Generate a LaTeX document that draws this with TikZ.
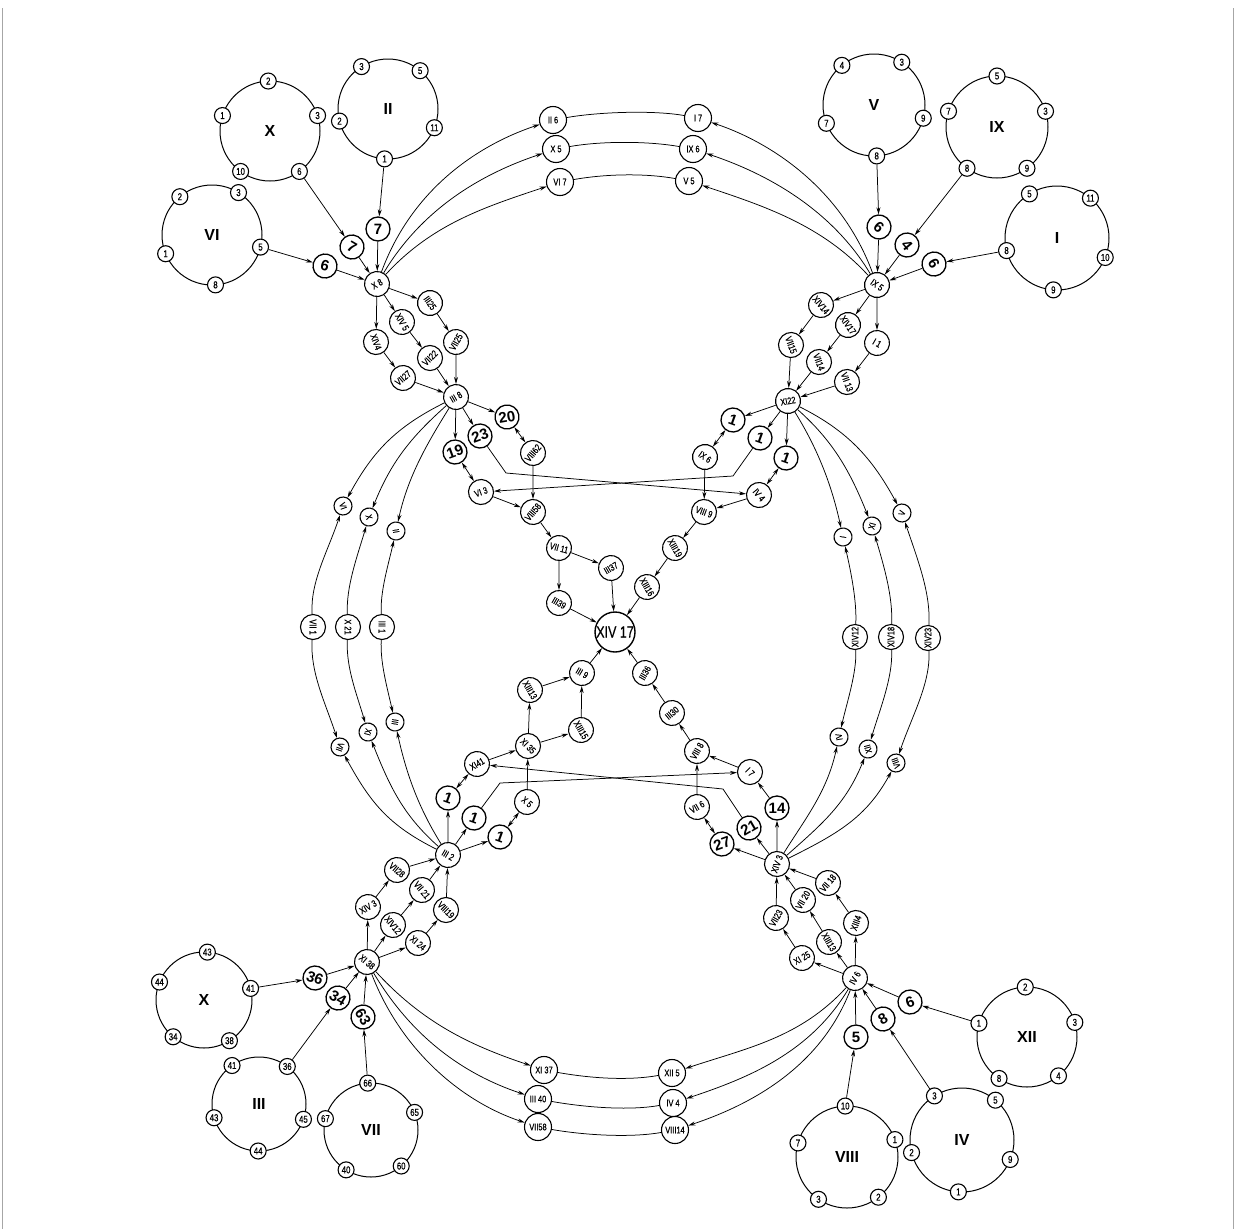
\documentclass[tikz,border=0pt]{standalone}
\usepackage{fontspec}
\setmainfont{Liberation Sans}
\newfontfamily\nf[FakeStretch=0.78,FakeBold=0.6]{Liberation Sans}
\usetikzlibrary{arrows.meta,calc}
\tikzset{
 base/.style={draw, circle, line width=1.1pt, inner sep=0pt, fill=white},
 ringc/.style={draw, circle, line width=1pt, minimum size=#1, inner sep=0pt, font=\bfseries\fontsize{16}{16}\selectfont},
 ringc/.default=100pt,
 rn/.style={base, minimum size=16pt, font=\nf\fontsize{10}{10}\selectfont},
 num/.style={base, minimum size=24pt, line width=1.3pt, font=\bfseries\fontsize{15}{15}\selectfont},
 lab/.style={base, minimum size=25pt, font=\nf\fontsize{9.5}{9.5}\selectfont},
 sml/.style={base, minimum size=18pt, font=\nf\fontsize{9}{9}\selectfont},
 big/.style={base, minimum size=40pt, line width=1.4pt, font=\nf\fontsize{16}{16}\selectfont},
 ar/.style={-{Stealth[length=7pt,width=4pt]}, line width=0.75pt},
 dar/.style={{Stealth[length=7pt,width=4pt]}-{Stealth[length=7pt,width=4pt]}, line width=0.75pt},
 ln/.style={line width=0.75pt},
}
\begin{document}
\begin{tikzpicture}[x=1pt,y=-1pt]
\useasboundingbox (0,0) rectangle (1235,1229);
\draw[gray!70, line width=0.8pt] (2,1229) -- (2,8);
\draw[gray!70, line width=0.8pt] (1233,1229) -- (1233,8);

% ---------- rings ----------
\node[ringc] (rX) at (270,131) {X};
\foreach \a/\t in {92/2,18/3,-54/6,-126/10,162/1}{\node[rn] (rX-\t) at ($(rX)+(-\a:50)$) {\t};}
\node[ringc] (rII) at (388,109) {II};
\foreach \a/\t in {122/3,50/5,-22/11,-94/1,194/2}{\node[rn] (rII-\t) at ($(rII)+(-\a:50)$) {\t};}
\node[ringc] (rVI) at (212,235) {VI};
\foreach \a/\t in {130/2,58/3,-14/5,-86/8,202/1}{\node[rn] (rVI-\t) at ($(rVI)+(-\a:50)$) {\t};}
\node[ringc=102pt] (rV) at (874,105) {V};
\foreach \a/\t in {129/4,57/3,-15/9,-87/8,201/7}{\node[rn] (rV-\t) at ($(rV)+(-\a:51)$) {\t};}
\node[ringc=102pt] (rIX) at (997,127) {IX};
\foreach \a/\t in {90/5,18/3,-54/9,-126/8,162/7}{\node[rn] (rIX-\t) at ($(rIX)+(-\a:51)$) {\t};}
\node[ringc=104pt] (rI) at (1057,238) {I};
\foreach \a/\t in {122/5,50/11,-22/10,-94/9,194/8}{\node[rn] (rI-\t) at ($(rI)+(-\a:52)$) {\t};}
\node[ringc=96pt] (rXb) at (204,1000) {X};
\foreach \a/\t in {86/43,14/41,-58/38,-130/34,158/44}{\node[rn] (rXb-\t) at ($(rXb)+(-\a:48)$) {\t};}
\node[ringc=94pt] (rIIIb) at (259,1104) {III};
\foreach \a/\t in {125/41,53/36,-19/45,-91/44,197/43}{\node[rn] (rIIIb-\t) at ($(rIIIb)+(-\a:47)$) {\t};}
\node[ringc=94pt] (rVIIb) at (371,1130) {VII};
\foreach \a/\t in {94/66,22/65,-50/60,-122/40,166/67}{\node[rn] (rVIIb-\t) at ($(rVIIb)+(-\a:47)$) {\t};}
\node[ringc] (rXII) at (1027,1037) {XII};
\foreach \a/\t in {92/2,17/3,-51/4,-124/8,164/1}{\node[rn] (rXII-\t) at ($(rXII)+(-\a:50)$) {\t};}
\node[ringc=102pt] (rVIIIb) at (847,1157) {VIII};
\foreach \a/\t in {92/10,20/1,-52/2,-124/3,164/7}{\node[rn] (rVIIIb-\t) at ($(rVIIIb)+(-\a:51)$) {\t};}
\node[ringc=104pt] (rIVb) at (962,1140) {IV};
\foreach \a/\t in {122/3,50/5,-22/9,-94/1,194/2}{\node[rn] (rIVb-\t) at ($(rIVb)+(-\a:52)$) {\t};}

% ---------- top-left cluster ----------
\node[num, rotate=-15] (n6a) at (325,266) {6};
\node[num, rotate=-30] (n7a) at (352,247) {7};
\node[num] (n7b) at (378,229) {7};
\node[lab, rotate=30] (X8) at (377,284) {X 8};
\draw[ar] (rVI-5) -- (n6a); \draw[ar] (n6a) -- (X8);
\draw[ar] (rX-6) -- (n7a); \draw[ar] (n7a) -- (X8);
\draw[ar] (rII-1) -- (n7b); \draw[ar] (n7b) -- (X8);

% ---------- top-right cluster ----------
\node[num, rotate=-40] (n6b) at (879,227) {6};
\node[num, rotate=-50] (n4) at (907,245) {4};
\node[num, rotate=-60] (n6c) at (934,264) {6};
\node[lab, rotate=-35] (IX5) at (877,285) {IX 5};
\draw[ar] (rV-8) -- (n6b); \draw[ar] (n6b) -- (IX5);
\draw[ar] (rIX-8) -- (n4); \draw[ar] (n4) -- (IX5);
\draw[ar] (rI-8) -- (n6c); \draw[ar] (n6c) -- (IX5);

% ---------- top arcs ----------
\node[lab, minimum size=27pt] (tII6) at (553,120) {II 6};
\node[lab, minimum size=27pt] (tX5) at (556,149) {X 5};
\node[lab, minimum size=27pt] (tVI7) at (560,182) {VI 7};
\node[lab, minimum size=27pt] (tI7) at (698,118) {I 7};
\node[lab, minimum size=27pt] (tIX6) at (693,149) {IX 6};
\node[lab, minimum size=27pt] (tV5) at (689,181) {V 5};
\draw[ar] (X8) .. controls +(35,-95) and +(-75,25) .. (tII6);
\draw[ar] (X8) .. controls +(45,-75) and +(-75,25) .. (tX5);
\draw[ar] (X8) .. controls +(55,-60) and +(-75,25) .. (tVI7);
\draw[ln] (tII6) .. controls +(45,-8) and +(-45,-8) .. (tI7);
\draw[ln] (tX5) .. controls +(45,-8) and +(-45,-8) .. (tIX6);
\draw[ln] (tVI7) .. controls +(45,-8) and +(-45,-8) .. (tV5);
\draw[ar] (IX5) .. controls +(-35,-95) and +(75,25) .. (tI7);
\draw[ar] (IX5) .. controls +(-45,-75) and +(75,25) .. (tIX6);
\draw[ar] (IX5) .. controls +(-55,-60) and +(75,25) .. (tV5);

% ---------- upper-left chain ----------
\node[lab, rotate=-55] (III25) at (430,303) {III25};
\node[lab, rotate=-60] (XIV5) at (402,322) {XIV 5};
\node[lab, rotate=-70] (XIV4) at (376,342) {XIV4};
\node[lab, rotate=60] (VII25) at (456,342) {VII25};
\node[lab, rotate=45] (VII22) at (430,358) {VII22};
\node[lab, rotate=40] (VII27) at (403,378) {VII27};
\node[lab, rotate=30] (III8) at (456,397) {III 8};
\node[num, rotate=10] (n20) at (507,417) {20};
\node[num, rotate=20] (n23) at (480,436) {23};
\node[num, rotate=20] (n19) at (455,452) {19};
\node[lab, rotate=50] (VIII62) at (533,453) {VIII62};
\node[lab, rotate=20] (VI3) at (481,492) {VI 3};
\node[lab, rotate=50] (VIII58) at (533,512) {VIII58};
\draw[ar] (X8) -- (III25); \draw[ar] (X8) -- (XIV5); \draw[ar] (X8) -- (XIV4);
\draw[ar] (XIV4) -- (VII27); \draw[ar] (XIV5) -- (VII22); \draw[ar] (III25) -- (VII25);
\draw[ar] (VII27) -- (III8); \draw[ar] (VII22) -- (III8); \draw[ar] (VII25) -- (III8);
\draw[ar] (III8) -- (n20); \draw[ar] (III8) -- (n23); \draw[ar] (III8) -- (n19);
\draw[dar] (n20) -- (VIII62); \draw[dar] (n19) -- (VI3);
\draw[ar] (VIII62) -- (VIII58); \draw[ar] (VI3) -- (VIII58);

% ---------- upper-right chain ----------
\node[lab, rotate=-50] (XIV14) at (821,305) {XIV14};
\node[lab, rotate=-55] (XIV17) at (848,325) {XIV17};
\node[lab, rotate=-30] (I1) at (877,343) {I 1};
\node[lab, rotate=-70] (VII15) at (791,345) {VII15};
\node[lab, rotate=-70] (VII14) at (819,362) {VII14};
\node[lab, rotate=-70] (VII13) at (847,382) {VII 13};
\node[lab, rotate=10] (XI22) at (788,401) {XI22};
\node[num, rotate=-20] (n1a) at (733,420) {1};
\node[num, rotate=-20] (n1b) at (760,438) {1};
\node[num, rotate=-20] (n1c) at (786,458) {1};
\node[lab, rotate=-35] (IX6m) at (705,457) {IX 6};
\node[lab, rotate=-50] (IV4m) at (759,495) {IV 4};
\node[lab, rotate=-20] (VIII9) at (704,512) {VIII 9};
\draw[ar] (IX5) -- (XIV14); \draw[ar] (IX5) -- (XIV17); \draw[ar] (IX5) -- (I1);
\draw[ar] (XIV14) -- (VII15); \draw[ar] (XIV17) -- (VII14); \draw[ar] (I1) -- (VII13);
\draw[ar] (VII15) -- (XI22); \draw[ar] (VII14) -- (XI22); \draw[ar] (VII13) -- (XI22);
\draw[ar] (XI22) -- (n1a); \draw[ar] (XI22) -- (n1b); \draw[ar] (XI22) -- (n1c);
\draw[dar] (n1a) -- (IX6m); \draw[dar] (n1c) -- (IV4m);
\draw[ar] (IX6m) -- (VIII9); \draw[ar] (IV4m) -- (VIII9);
\coordinate (c23) at (506,473);
\draw[ar] (n23) -- (c23) -- (IV4m);
\coordinate (c1b) at (733,476);
\draw[ar] (n1b) -- (c1b) -- (VI3);

% ---------- centre ----------
\node[lab, rotate=-15] (VII11) at (559,548) {VII 11};
\node[lab, rotate=30] (III37) at (611,568) {III37};
\node[lab, rotate=-30] (III39) at (559,603) {III39};
\node[big] (XIV17c) at (615,632) {XIV 17};
\node[lab, rotate=-60] (XIII19) at (675,548) {XIII19};
\node[lab, rotate=-60] (XIII16) at (647,587) {XIII16};
\node[lab, rotate=-30] (III9) at (582,673) {III 9};
\node[lab, rotate=-60] (XIII13) at (530,690) {XIII13};
\node[lab, rotate=60] (III36) at (645,673) {III36};
\node[lab, rotate=-60] (XIII15) at (581,730) {XIII15};
\node[lab, rotate=-45] (XI35) at (528,746) {XI 35};
\node[lab, rotate=40] (III30) at (672,713) {III30};
\node[lab, rotate=30] (XI41) at (477,764) {XI41};
\node[lab, rotate=60] (VIII8) at (697,751) {VIII 8};
\node[lab, rotate=-45] (I7b) at (750,772) {I 7};
\draw[ar] (VIII58) -- (VII11); \draw[ar] (VII11) -- (III37); \draw[ar] (VII11) -- (III39);
\draw[ar] (III37) -- (XIV17c); \draw[ar] (III39) -- (XIV17c);
\draw[ar] (VIII9) -- (XIII19); \draw[ar] (XIII19) -- (XIII16); \draw[ar] (XIII16) -- (XIV17c);
\draw[ar] (III9) -- (XIV17c); \draw[ar] (III36) -- (XIV17c);
\draw[ar] (XIII13) -- (III9); \draw[ar] (XIII15) -- (III9);
\draw[ar] (XI35) -- (XIII13); \draw[ar] (XI35) -- (XIII15);
\draw[ar] (XI41) -- (XI35);
\draw[ar] (III30) -- (III36); \draw[ar] (VIII8) -- (III30); \draw[ar] (I7b) -- (VIII8);

% ---------- lower-left chain ----------
\node[lab, rotate=-30] (III2) at (448,855) {III 2};
\node[num, rotate=-20] (n1u) at (448,798) {1};
\node[num, rotate=-20] (n1m) at (474,818) {1};
\node[num, rotate=-20] (n1l) at (500,837) {1};
\node[lab, rotate=-40] (X5b) at (527,802) {X 5};
\node[lab, rotate=-40] (VII28) at (397,870) {VII28};
\node[lab, rotate=-50] (VII21) at (422,890) {VII 21};
\node[lab, rotate=-45] (VIII19) at (446,910) {VIII19};
\node[lab, rotate=30] (XIV3a) at (368,907) {XIV 3};
\node[lab, rotate=-50] (XIV12a) at (393,925) {XIV12};
\node[lab, rotate=-40] (XI24) at (418,943) {XI 24};
\node[lab, rotate=-40] (XI38) at (367,962) {XI 38};
\node[num, rotate=-20] (n36) at (315,978) {36};
\node[num, rotate=-30] (n34) at (338,998) {34};
\node[num, rotate=-60] (n63) at (363,1017) {63};
\draw[ar] (rXb-41) -- (n36); \draw[ar] (n36) -- (XI38);
\draw[ar] (rIIIb-36) -- (n34); \draw[ar] (n34) -- (XI38);
\draw[ar] (rVIIb-66) -- (n63); \draw[ar] (n63) -- (XI38);
\draw[ar] (XI38) -- (XIV3a); \draw[ar] (XI38) -- (XIV12a); \draw[ar] (XI38) -- (XI24);
\draw[ar] (XIV3a) -- (VII28); \draw[ar] (XIV12a) -- (VII21); \draw[ar] (XI24) -- (VIII19);
\draw[ar] (VII28) -- (III2); \draw[ar] (VII21) -- (III2); \draw[ar] (VIII19) -- (III2);
\draw[ar] (III2) -- (n1u); \draw[ar] (III2) -- (n1m); \draw[ar] (III2) -- (n1l);
\draw[dar] (n1u) -- (XI41); \draw[dar] (n1l) -- (X5b);
\draw[ar] (X5b) -- (XI35);

% ---------- lower-right chain ----------
\node[lab, rotate=70] (XIV3b) at (777,864) {XIV 3};
\node[num, rotate=20] (n27) at (722,844) {27};
\node[num, rotate=30] (n21) at (749,828) {21};
\node[num] (n14) at (777,808) {14};
\node[lab, rotate=30] (VII6) at (697,807) {VII 6};
\node[lab, rotate=50] (VII18) at (828,883) {VII 18};
\node[lab, rotate=60] (VII20) at (803,900) {VII 20};
\node[lab, rotate=60] (VII23) at (776,918) {VII23};
\node[lab, rotate=70] (XIII4) at (856,923) {XIII4};
\node[lab, rotate=-60] (XIII13b) at (829,942) {XIII13};
\node[lab, rotate=30] (XI25) at (802,958) {XI 25};
\node[lab, rotate=60] (IV6) at (855,978) {IV 6};
\node[num, rotate=20] (n6d) at (910,1002) {6};
\node[num, rotate=30] (n8) at (883,1019) {8};
\node[num] (n5) at (856,1037) {5};
\draw[ar] (rXII-1) -- (n6d); \draw[ar] (n6d) -- (IV6);
\draw[ar] (rIVb-3) -- (n8); \draw[ar] (n8) -- (IV6);
\draw[ar] (rVIIIb-10) -- (n5); \draw[ar] (n5) -- (IV6);
\draw[ar] (IV6) -- (XI25); \draw[ar] (IV6) -- (XIII13b); \draw[ar] (IV6) -- (XIII4);
\draw[ar] (XI25) -- (VII23); \draw[ar] (XIII13b) -- (VII20); \draw[ar] (XIII4) -- (VII18);
\draw[ar] (VII23) -- (XIV3b); \draw[ar] (VII20) -- (XIV3b); \draw[ar] (VII18) -- (XIV3b);
\draw[ar] (XIV3b) -- (n27); \draw[ar] (XIV3b) -- (n21); \draw[ar] (XIV3b) -- (n14);
\draw[ar] (n14) -- (I7b); \draw[dar] (VII6) -- (n27);
\draw[ar] (VII6) -- (VIII8);
\coordinate (c1m) at (500,783);
\draw[ar] (n1m) -- (c1m) -- (I7b);
\coordinate (c21) at (723,789);
\draw[ar] (n21) -- (c21) -- (XI41);

% ---------- bottom arcs ----------
\node[lab, minimum size=27pt] (XI37) at (544,1070) {XI 37};
\node[lab, minimum size=27pt] (III40) at (538,1099) {III 40};
\node[lab, minimum size=27pt] (VII58) at (538,1127) {VII58};
\node[lab, minimum size=27pt] (XII5) at (672,1073) {XII 5};
\node[lab, minimum size=27pt] (IV4b) at (673,1103) {IV 4};
\node[lab, minimum size=27pt] (VIII14) at (675,1130) {VIII14};
\draw[ar] (XI38) .. controls +(55,60) and +(-75,-25) .. (XI37);
\draw[ar] (XI38) .. controls +(45,75) and +(-75,-25) .. (III40);
\draw[ar] (XI38) .. controls +(35,90) and +(-75,-25) .. (VII58);
\draw[ln] (XI37) .. controls +(45,8) and +(-45,8) .. (XII5);
\draw[ln] (III40) .. controls +(45,8) and +(-45,8) .. (IV4b);
\draw[ln] (VII58) .. controls +(45,8) and +(-45,8) .. (VIII14);
\draw[ar] (IV6) .. controls +(-55,60) and +(75,-25) .. (XII5);
\draw[ar] (IV6) .. controls +(-45,75) and +(75,-25) .. (IV4b);
\draw[ar] (IV6) .. controls +(-35,90) and +(75,-25) .. (VIII14);

% ---------- left side arcs ----------
\node[sml, rotate=-70] (sVI) at (343,506) {VI};
\node[sml, rotate=-75] (sX) at (369,517) {X};
\node[sml, rotate=-80] (sII) at (396,531) {II};
\node[lab, rotate=-90] (sVII1) at (313,627) {VII 1};
\node[lab, rotate=-90] (sX21) at (348,627) {X 21};
\node[lab, rotate=-90] (sIII1) at (382,627) {III 1};
\node[sml, rotate=-110] (sVII) at (340,747) {VII};
\node[sml, rotate=-105] (sXI) at (368,732) {XI};
\node[sml, rotate=-100] (sIII) at (395,722) {III};
\draw[ar] (III8) .. controls +(-60,30) and +(30,-55) .. (sVI);
\draw[ar] (III8) .. controls +(-45,40) and +(22,-55) .. (sX);
\draw[ar] (III8) .. controls +(-28,45) and +(12,-55) .. (sII);
\draw[ar] (sVII1) .. controls +(-3,-45) and +(-15,45) .. (sVI);
\draw[ar] (sX21) .. controls +(-2,-40) and +(-12,40) .. (sX);
\draw[ar] (sIII1) .. controls +(-2,-35) and +(-8,35) .. (sII);
\draw[ar] (sVII1) .. controls +(-3,45) and +(-15,-45) .. (sVII);
\draw[ar] (sX21) .. controls +(-2,40) and +(-12,-40) .. (sXI);
\draw[ar] (sIII1) .. controls +(-2,35) and +(-8,-35) .. (sIII);
\draw[ar] (III2) .. controls +(-60,-30) and +(30,55) .. (sVII);
\draw[ar] (III2) .. controls +(-45,-40) and +(22,55) .. (sXI);
\draw[ar] (III2) .. controls +(-28,-45) and +(12,55) .. (sIII);

% ---------- right side arcs ----------
\node[sml, rotate=80] (sI) at (843,537) {I};
\node[sml, rotate=75] (sXIr) at (872,526) {XI};
\node[sml, rotate=70] (sV) at (902,513) {V};
\node[lab, rotate=90] (sXIV12) at (855,637) {XIV12};
\node[lab, rotate=90] (sXIV18) at (891,637) {XIV18};
\node[lab, rotate=90] (sXIV23) at (928,638) {XIV23};
\node[sml, rotate=100] (sIV) at (839,737) {IV};
\node[sml, rotate=105] (sXII) at (868,749) {XII};
\node[sml, rotate=110] (sVIII) at (896,763) {VIII};
\draw[ar] (XI22) .. controls +(28,45) and +(-12,-55) .. (sI);
\draw[ar] (XI22) .. controls +(45,40) and +(-22,-55) .. (sXIr);
\draw[ar] (XI22) .. controls +(60,30) and +(-30,-55) .. (sV);
\draw[ar] (sXIV12) .. controls +(2,-35) and +(8,35) .. (sI);
\draw[ar] (sXIV18) .. controls +(2,-40) and +(12,40) .. (sXIr);
\draw[ar] (sXIV23) .. controls +(3,-45) and +(15,45) .. (sV);
\draw[ar] (sXIV12) .. controls +(2,35) and +(8,-35) .. (sIV);
\draw[ar] (sXIV18) .. controls +(2,40) and +(12,-40) .. (sXII);
\draw[ar] (sXIV23) .. controls +(3,45) and +(15,-45) .. (sVIII);
\draw[ar] (XIV3b) .. controls +(28,-45) and +(-12,55) .. (sIV);
\draw[ar] (XIV3b) .. controls +(45,-40) and +(-22,55) .. (sXII);
\draw[ar] (XIV3b) .. controls +(60,-30) and +(-30,55) .. (sVIII);
\end{tikzpicture}
\end{document}
